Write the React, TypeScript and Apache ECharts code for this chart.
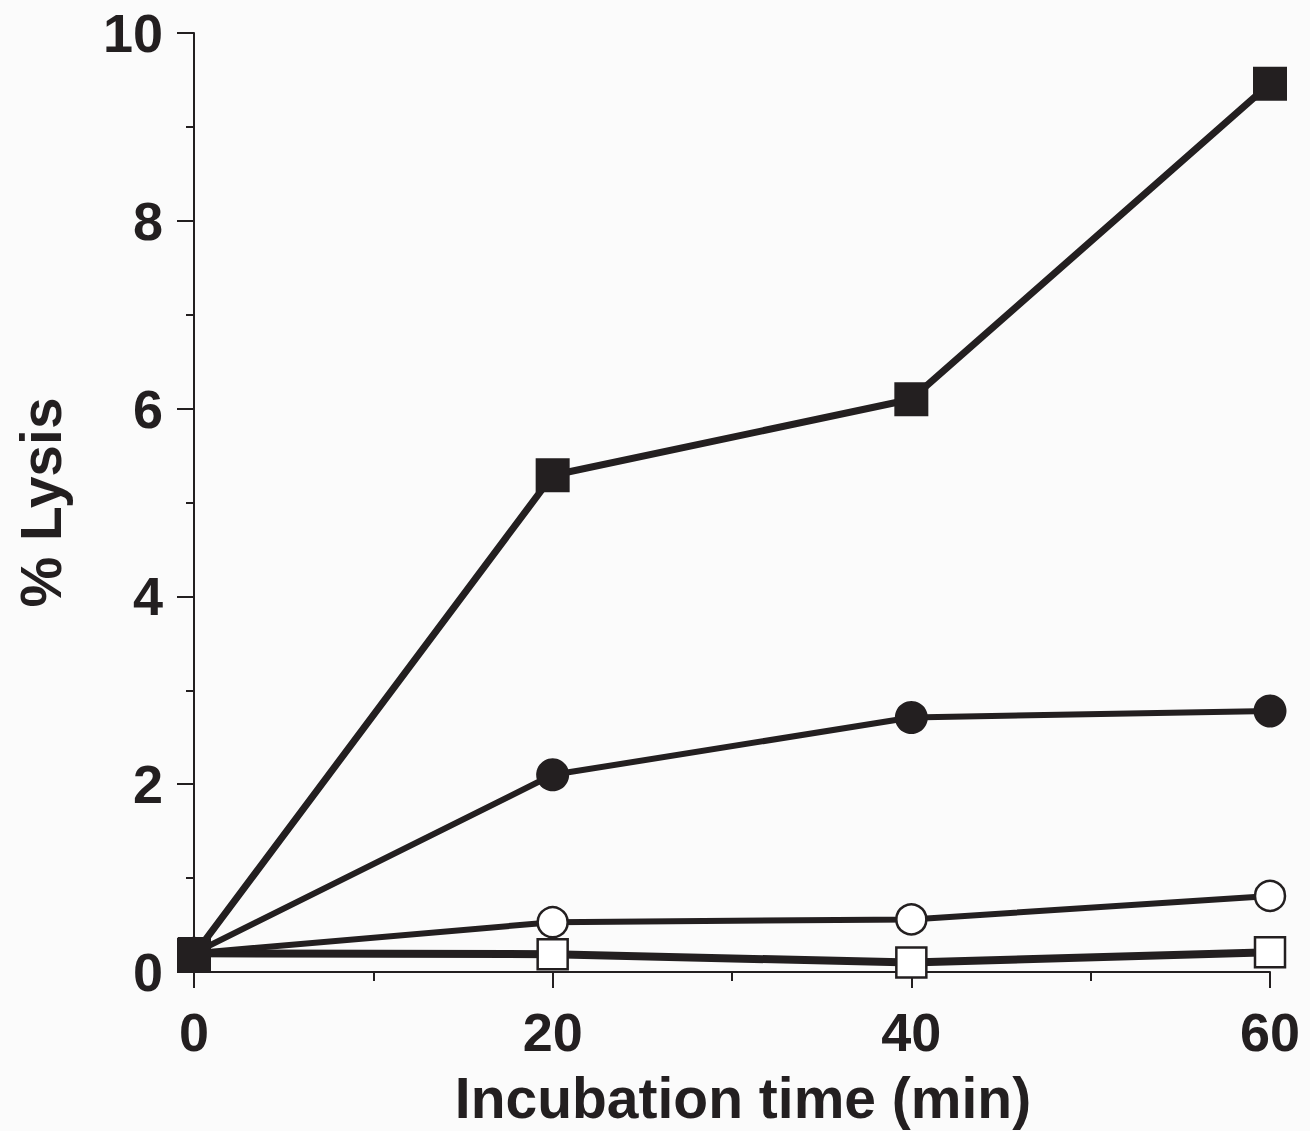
import React, { useEffect, useRef } from "react";
import * as echarts from "echarts";

const times = [0, 20, 40, 60];
const filledSquare = [0.18, 5.29, 6.1, 9.46];
const filledCircle = [0.2, 2.1, 2.71, 2.78];
const openCircle = [0.2, 0.53, 0.56, 0.81];
const openSquare = [0.2, 0.19, 0.1, 0.21];

const INK = "#231f20";

export default function App() {
  const ref = useRef<HTMLDivElement>(null);
  useEffect(() => {
    if (!ref.current) return;
    const chart = echarts.init(ref.current, undefined, { renderer: "svg" });
    const pairs = (ys: number[]) => times.map((t, i) => [t, ys[i]]);
    const font = "Arial, 'Liberation Sans', Helvetica, sans-serif";
    const openStyle = { color: "#ffffff", borderColor: INK, borderWidth: 2.5 };
    chart.setOption({
      animation: false,
      backgroundColor: "#fbfbfb",
      grid: { left: 194, right: 40, top: 33, bottom: 157 },
      xAxis: {
        type: "value",
        min: 0,
        max: 60,
        interval: 20,
        name: "Incubation time (min)",
        nameLocation: "middle",
        nameGap: 97,
        nameTextStyle: { fontSize: 57, fontWeight: "bold", color: INK, fontFamily: font, padding: [0, 0, 0, 22] },
        axisLine: { lineStyle: { color: INK, width: 2 } },
        axisTick: { show: true, inside: false, length: 16, lineStyle: { color: INK, width: 2 } },
        minorTick: { show: true, splitNumber: 2, length: 9, lineStyle: { color: INK, width: 2 } },
        splitLine: { show: false },
        axisLabel: { fontSize: 54, fontWeight: "bold", color: INK, fontFamily: font, margin: 33 },
      },
      yAxis: {
        type: "value",
        min: 0,
        max: 10,
        interval: 2,
        name: "% Lysis",
        nameLocation: "middle",
        nameGap: 125,
        nameRotate: 90,
        nameTextStyle: { fontSize: 57, fontWeight: "bold", color: INK, fontFamily: font },
        axisLine: { show: true, lineStyle: { color: INK, width: 2 } },
        axisTick: { show: true, inside: false, length: 17, lineStyle: { color: INK, width: 2 } },
        minorTick: { show: true, splitNumber: 2, length: 8, lineStyle: { color: INK, width: 2 } },
        splitLine: { show: false },
        axisLabel: { fontSize: 54, fontWeight: "bold", color: INK, fontFamily: font, margin: 31 },
      },
      series: [
        {
          name: "open square",
          type: "line",
          data: pairs(openSquare),
          symbol: "rect",
          symbolSize: 30,
          lineStyle: { color: INK, width: 8 },
          itemStyle: openStyle,
          z: 2,
        },
        {
          name: "open circle",
          type: "line",
          data: pairs(openCircle),
          symbol: "circle",
          symbolSize: 30,
          lineStyle: { color: INK, width: 6 },
          itemStyle: openStyle,
          z: 3,
        },
        {
          name: "filled circle",
          type: "line",
          data: pairs(filledCircle),
          symbol: "circle",
          symbolSize: 33,
          lineStyle: { color: INK, width: 6 },
          itemStyle: { color: INK },
          z: 4,
        },
        {
          name: "filled square",
          type: "line",
          data: pairs(filledSquare),
          symbol: "rect",
          symbolSize: 34,
          lineStyle: { color: INK, width: 7 },
          itemStyle: { color: INK },
          z: 5,
        },
      ],
    });
    return () => chart.dispose();
  }, []);
  return <div ref={ref} style={{ width: 1310, height: 1131, position: "absolute", left: 0, top: 0 }} />;
}
